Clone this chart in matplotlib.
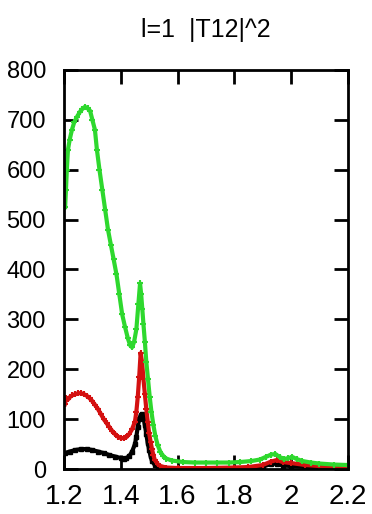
import matplotlib.pyplot as plt

plt.rcParams['font.family'] = ['Liberation Sans', 'DejaVu Sans']

# |T12|^2 for the three channels, read point by point
x_black = [1.203, 1.22, 1.24, 1.26, 1.28, 1.30, 1.32, 1.34, 1.36, 1.38, 1.40, 1.41,
           1.42, 1.43, 1.44, 1.45, 1.455, 1.46, 1.465, 1.47, 1.475, 1.48, 1.485,
           1.49, 1.495, 1.50, 1.505, 1.51, 1.52, 1.53, 1.55, 1.6, 1.7, 1.8, 1.87,
           1.9, 1.93, 1.95, 1.97, 2.0, 2.05, 2.1, 2.2]
y_black = [32, 35, 38, 40, 40, 38, 35, 32, 28, 25, 22, 21,
           22, 26, 35, 50, 65, 85, 100, 108, 110, 102, 88,
           70, 52, 38, 26, 16, 8, 4, 2, 1, 1, 1, 2,
           5, 10, 11, 7, 6, 4, 3, 2]

x_red = [1.203, 1.208, 1.215, 1.222, 1.23, 1.24, 1.25, 1.26, 1.27, 1.28, 1.29,
         1.30, 1.31, 1.32, 1.33, 1.34, 1.35, 1.36, 1.37, 1.38, 1.39, 1.40, 1.41,
         1.42, 1.43, 1.44, 1.45, 1.455, 1.46, 1.465, 1.47, 1.475, 1.48, 1.485,
         1.49, 1.495, 1.50, 1.505, 1.51, 1.515, 1.52, 1.53, 1.54, 1.56, 1.6,
         1.7, 1.8, 1.85, 1.9, 1.93, 1.95, 1.97, 2.0, 2.05, 2.1, 2.2]
y_red = [130, 142, 140, 145, 148, 150, 152, 152, 150, 147, 142,
         136, 128, 120, 110, 100, 92, 84, 76, 70, 65, 62, 62,
         64, 70, 80, 95, 115, 145, 185, 232, 215, 180, 150,
         120, 95, 72, 55, 40, 28, 18, 10, 6, 3, 2,
         2, 3, 4, 8, 15, 18, 14, 12, 8, 6, 4]

x_green = [1.204, 1.207, 1.21, 1.214, 1.22, 1.228, 1.236, 1.245, 1.255, 1.265,
           1.274, 1.283, 1.292, 1.30, 1.309, 1.316, 1.325, 1.335, 1.345, 1.355,
           1.365, 1.375, 1.385, 1.395, 1.405, 1.415, 1.425, 1.433, 1.44, 1.447,
           1.455, 1.462, 1.468, 1.472, 1.476, 1.48, 1.485, 1.49, 1.496, 1.502,
           1.508, 1.515, 1.522, 1.53, 1.54, 1.55, 1.56, 1.58, 1.62, 1.66, 1.70,
           1.74, 1.78, 1.82, 1.86, 1.89, 1.91, 1.93, 1.945, 1.96, 1.975, 1.99,
           2.005, 2.02, 2.04, 2.07, 2.1, 2.15, 2.2]
y_green = [525, 560, 600, 640, 660, 680, 695, 705, 715, 722,
           726, 723, 718, 700, 680, 640, 600, 560, 520, 480,
           450, 420, 390, 350, 310, 285, 262, 248, 244, 255,
           280, 330, 372, 350, 320, 290, 255, 215, 180, 145,
           115, 88, 66, 48, 34, 26, 21, 17, 14, 13, 13,
           13, 13, 14, 16, 19, 24, 29, 30, 24, 20, 22,
           24, 20, 16, 13, 11, 9, 8]

fig = plt.figure(figsize=(3.72, 5.14), dpi=100)
ax = fig.add_axes([0.172, 0.0875, 0.763, 0.7765])

ax.plot(x_black, y_black, color='black', lw=3, marker='s', ms=3.5)
ax.plot(x_red, y_red, color='#d41010', lw=3, marker='+', ms=5, mew=1.5)
ax.plot(x_green, y_green, color='#2ed82e', lw=3, marker='+', ms=5, mew=1.5)

ax.set_xlim(1.2, 2.2)
ax.set_ylim(0, 800)
ax.set_xticks([1.2, 1.4, 1.6, 1.8, 2.0, 2.2])
ax.set_xticklabels(['1.2', '1.4', '1.6', '1.8', '2', '2.2'])
ax.set_yticks(range(0, 801, 100))

ax.tick_params(direction='in', top=True, right=True, length=10, width=2)
ax.tick_params(axis='x', labelsize=20, pad=11)
ax.tick_params(axis='y', labelsize=17, pad=13)
for s in ax.spines.values():
    s.set_linewidth(2)

fig.text(0.553, 1 - 30 / 514, 'l=1  |T12|^2', ha='center', va='center', fontsize=18)

fig.savefig('out.png', dpi=100)
